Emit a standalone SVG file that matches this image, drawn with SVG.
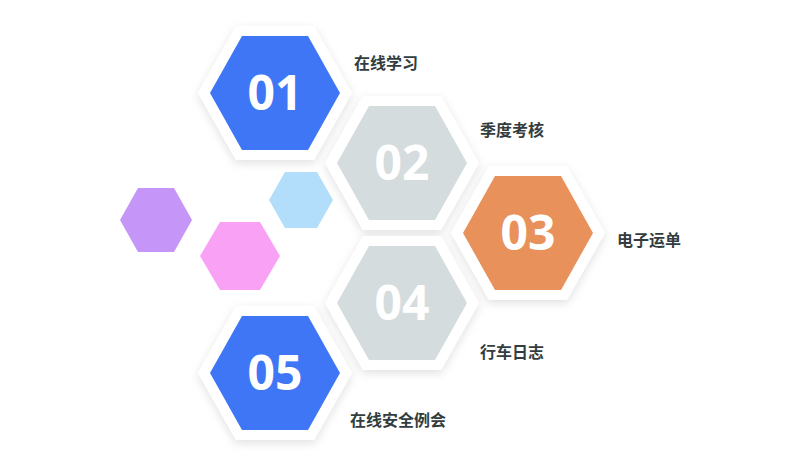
<svg xmlns="http://www.w3.org/2000/svg" width="800" height="471" viewBox="0 0 800 471">
<defs>
<filter id="sh" x="-30%" y="-30%" width="160%" height="160%"><feDropShadow dx="0" dy="3" stdDeviation="5" flood-color="#000" flood-opacity="0.12"/></filter>
<polygon id="outer" points="-77,0 -39,-67 39,-67 77,0 39,67 -39,67"/>
<polygon id="inner" points="-65,0 -33,-57 33,-57 65,0 33,57 -33,57"/>
</defs>
<style>
.num{font-family:"Open Sans","Noto Sans",sans-serif;font-weight:bold;font-size:48px;fill:#fff;text-anchor:middle}
.lbl{font-family:"Noto Sans CJK SC",sans-serif;font-weight:bold;font-size:16px;fill:#333d40}
</style>
<rect width="800" height="471" fill="#fff"/>
<g id="small">
<polygon points="120,220 138,188 174,188 192,220 174,252 138,252" fill="#c595f7"/>
<polygon points="200,256 220,222 260,222 280,256 260,290 220,290" fill="#f9a2f5"/>
<polygon points="269,200 285,172 317,172 333,200 317,228 285,228" fill="#b2ddfb"/>
</g>
<g id="n01" transform="translate(275,93)"><use href="#outer" fill="#fff" filter="url(#sh)"/><use href="#inner" fill="#3f76f6"/><text class="num" y="17">01</text></g>
<g id="n02" transform="translate(402,163)"><use href="#outer" fill="#fff" filter="url(#sh)"/><use href="#inner" fill="#d4dcdd"/><text class="num" y="17">02</text></g>
<g id="n03" transform="translate(528,233)"><use href="#outer" fill="#fff" filter="url(#sh)"/><use href="#inner" fill="#e8915a"/><text class="num" y="17">03</text></g>
<g id="n04" transform="translate(402,303)"><use href="#outer" fill="#fff" filter="url(#sh)"/><use href="#inner" fill="#d4dcdd"/><text class="num" y="17">04</text></g>
<g id="n05" transform="translate(275,373)"><use href="#outer" fill="#fff" filter="url(#sh)"/><use href="#inner" fill="#3f76f6"/><text class="num" y="17">05</text></g>
<g id="labels">
<text class="lbl" x="354" y="69">在线学习</text>
<text class="lbl" x="480" y="136">季度考核</text>
<text class="lbl" x="617" y="246">电子运单</text>
<text class="lbl" x="480" y="358">行车日志</text>
<text class="lbl" x="350" y="426">在线安全例会</text>
</g>
<g id="connectors"/>
</svg>
